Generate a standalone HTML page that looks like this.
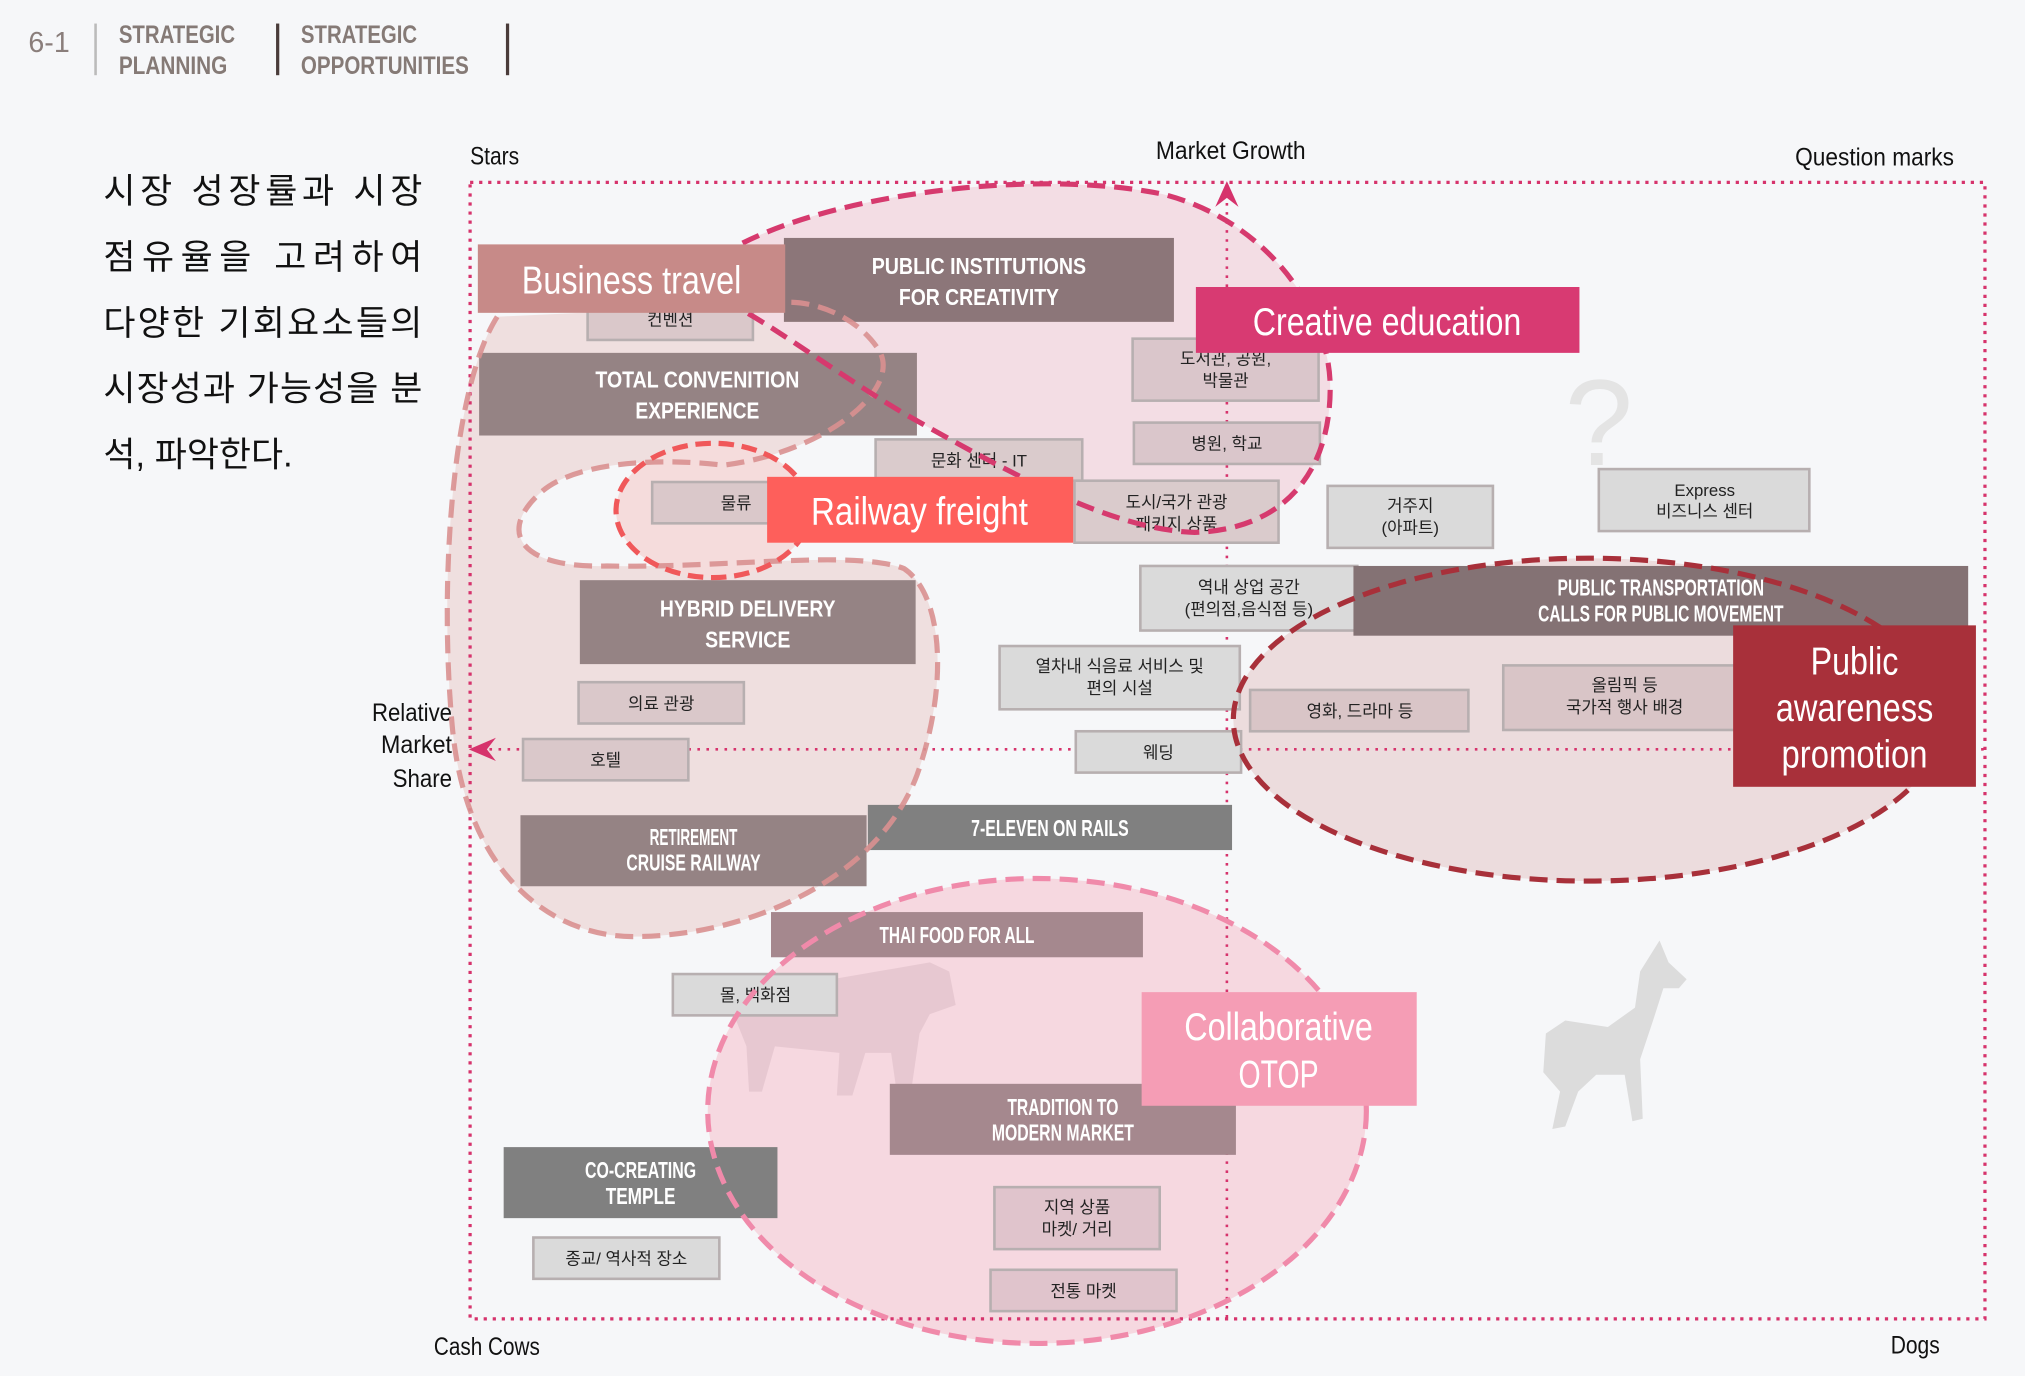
<!DOCTYPE html>
<html><head><meta charset="utf-8"><style>
html,body{margin:0;padding:0;background:#f6f7f9;}
svg{display:block}
text{font-family:"Liberation Sans Narrow","Liberation Sans","Noto Sans CJK KR",sans-serif;}
.k{font-family:"Liberation Sans","Noto Sans CJK KR",sans-serif;font-size:13px;fill:#222;text-anchor:middle}
.w{fill:#fff;text-anchor:middle;font-size:18px;font-weight:bold}
.b{fill:#fff;text-anchor:middle;font-size:30px}
.ax{font-size:19px;fill:#111}
</style></head><body>
<svg width="2025" height="1376" viewBox="0 0 1568 1065" xmlns="http://www.w3.org/2000/svg">
<rect width="1568" height="1065" fill="#f6f7f9"/>
<text x="22" y="40" font-size="22" fill="#8a7e7b" textLength="32" lengthAdjust="spacingAndGlyphs">6-1</text>
<line x1="74" y1="18" x2="74" y2="58" stroke="#bbb" stroke-width="2"/>
<text x="92" y="33" font-size="19" font-weight="bold" fill="#857a76" textLength="90" lengthAdjust="spacingAndGlyphs">STRATEGIC</text>
<text x="92" y="57" font-size="19" font-weight="bold" fill="#857a76" textLength="84" lengthAdjust="spacingAndGlyphs">PLANNING</text>
<line x1="215" y1="18" x2="215" y2="58" stroke="#4a3c3a" stroke-width="2.5"/>
<text x="233" y="33" font-size="19" font-weight="bold" fill="#857a76" textLength="90" lengthAdjust="spacingAndGlyphs">STRATEGIC</text>
<text x="233" y="57" font-size="19" font-weight="bold" fill="#857a76" textLength="130" lengthAdjust="spacingAndGlyphs">OPPORTUNITIES</text>
<line x1="393" y1="18" x2="393" y2="58" stroke="#4a3c3a" stroke-width="2.5"/>
<g font-family="'Liberation Sans','Noto Sans CJK KR',sans-serif" font-size="27" fill="#111">
<text x="80" y="157" textLength="247" lengthAdjust="spacing">시장 성장률과 시장</text>
<text x="80" y="208" textLength="247" lengthAdjust="spacing">점유율을 고려하여</text>
<text x="80" y="259" textLength="247" lengthAdjust="spacing">다양한 기회요소들의</text>
<text x="80" y="310" textLength="247" lengthAdjust="spacing">시장성과 가능성을 분</text>
<text x="80" y="361">석, 파악한다.</text>
</g>
<text class="ax" x="364" y="127" textLength="38" lengthAdjust="spacingAndGlyphs">Stars</text>
<text class="ax" x="895" y="123" textLength="116" lengthAdjust="spacingAndGlyphs">Market Growth</text>
<text class="ax" x="1390" y="128" textLength="123" lengthAdjust="spacingAndGlyphs">Question marks</text>
<text class="ax" x="288" y="558" textLength="62" lengthAdjust="spacingAndGlyphs">Relative</text>
<text class="ax" x="295" y="583" textLength="55" lengthAdjust="spacingAndGlyphs">Market</text>
<text class="ax" x="304" y="609" textLength="46" lengthAdjust="spacingAndGlyphs">Share</text>
<text class="ax" x="336" y="1049" textLength="82" lengthAdjust="spacingAndGlyphs">Cash Cows</text>
<text class="ax" x="1464" y="1048" textLength="38" lengthAdjust="spacingAndGlyphs">Dogs</text>
<text x="1238" y="360" font-size="95" fill="#e4e4e4" text-anchor="middle" font-family="'Liberation Sans',sans-serif">?</text>
<path d="M1285,728 L1292,745 L1306,758 L1300,765 L1288,765 L1280,790 L1270,820 L1272,866 L1264,868 L1258,832 L1236,832 L1222,845 L1212,872 L1202,874 L1208,845 L1195,830 L1197,800 L1212,790 L1245,795 L1266,780 L1270,752 Z" fill="#dcdcdc"/>
<path d="M385,245 C350,300 340,450 350,560 C360,680 430,725 490,725 C580,725 680,680 710,600 C735,530 730,460 700,440 C660,425 560,440 470,438 C400,440 385,410 420,380 C450,355 520,355 560,360 C640,350 700,300 680,270 C660,240 620,230 600,235 Z" fill="#efdfdf"/>
<path d="M575,188 C650,150 800,130 900,150 C980,170 1030,240 1030,300 C1030,370 990,410 925,412 C860,410 780,365 700,320 C650,290 610,260 575,240 Z" fill="#f3dde4"/>
<ellipse cx="1230" cy="557" rx="275" ry="125" fill="#ecdcdd"/>
<ellipse cx="803" cy="860" rx="255" ry="180" fill="#f6d8e0"/>
<ellipse cx="552" cy="395" rx="75" ry="52" fill="#f5dcdc"/>
<rect x="364" y="141" width="1173" height="880" fill="none" stroke="#d6336c" stroke-width="2.5" stroke-dasharray="2.5 4.5"/>
<line x1="950" y1="150" x2="950" y2="1021" stroke="#d6336c" stroke-width="2" stroke-dasharray="2 5"/>
<line x1="372" y1="580" x2="1537" y2="580" stroke="#d6336c" stroke-width="2" stroke-dasharray="2 5"/>
<path d="M950,140 L941,160 L950,153 L959,160 Z" fill="#d6336c"/>
<path d="M363,580 L384,571 L377,580 L384,589 Z" fill="#d6336c"/>
<path d="M575,770 L720,745 L735,752 L740,778 L720,785 L712,800 L705,848 L695,850 L690,815 L670,815 L660,848 L648,848 L650,815 L600,810 L590,845 L580,845 L578,810 L570,790 Z" fill="#e3c4cd" opacity="0.8"/>
<g stroke="#b7afb0" stroke-width="2">
<rect x="455" y="230" width="128" height="33" fill="#dac8ca"/>
<rect x="877" y="262" width="144" height="48" fill="#dac6cb"/>
<rect x="878" y="327" width="144" height="32" fill="#dac6cb"/>
<rect x="678" y="340" width="160" height="32" fill="#dacbcc"/>
<rect x="505" y="373" width="130" height="32" fill="#dac8ca"/>
<rect x="832" y="372" width="158" height="48" fill="#dacbcc"/>
<rect x="1028" y="376" width="128" height="48" fill="#dadada"/>
<rect x="1238" y="363" width="163" height="48" fill="#dadada"/>
<rect x="883" y="438" width="168" height="50" fill="#dadada"/>
<rect x="774" y="500" width="186" height="49" fill="#dadada"/>
<rect x="448" y="528" width="128" height="32" fill="#dac8ca"/>
<rect x="968" y="534" width="169" height="32" fill="#d9c5c7"/>
<rect x="1164" y="515" width="180" height="50" fill="#d9c5c7"/>
<rect x="405" y="572" width="128" height="32" fill="#dac8ca"/>
<rect x="833" y="566" width="128" height="32" fill="#dadada"/>
<rect x="521" y="754" width="127" height="32" fill="#dadada"/>
<rect x="770" y="919" width="128" height="48" fill="#e0c4cc"/>
<rect x="413" y="958" width="144" height="32" fill="#dadada"/>
<rect x="767" y="983" width="144" height="32" fill="#e0c4cc"/>
</g>
<g>
<text class="k" x="519" y="252">컨벤션</text>
<text class="k" x="949" y="282">도서관, 공원,</text><text class="k" x="949" y="299">박물관</text>
<text class="k" x="950" y="348">병원, 학교</text>
<text class="k" x="758" y="361">문화 센터 - IT</text>
<text class="k" x="570" y="394">물류</text>
<text class="k" x="911" y="393">도시/국가 관광</text><text class="k" x="911" y="410">패키지 상품</text>
<text class="k" x="1092" y="396">거주지</text><text class="k" x="1092" y="413">(아파트)</text>
<text class="k" x="1320" y="384">Express</text><text class="k" x="1320" y="400">비즈니스 센터</text>
<text class="k" x="967" y="459">역내 상업 공간</text><text class="k" x="967" y="476">(편의점,음식점 등)</text>
<text class="k" x="867" y="520">열차내 식음료 서비스 및</text><text class="k" x="867" y="537">편의 시설</text>
<text class="k" x="512" y="549">의료 관광</text>
<text class="k" x="1053" y="555">영화, 드라마 등</text>
<text class="k" x="1258" y="535">올림픽 등</text><text class="k" x="1258" y="552">국가적 행사 배경</text>
<text class="k" x="469" y="593">호텔</text>
<text class="k" x="897" y="587">웨딩</text>
<text class="k" x="585" y="775">몰, 백화점</text>
<text class="k" x="834" y="939">지역 상품</text><text class="k" x="834" y="956">마켓/ 거리</text>
<text class="k" x="485" y="979">종교/ 역사적 장소</text>
<text class="k" x="839" y="1004">전통 마켓</text>
</g>
<rect x="607" y="184" width="302" height="65" fill="#8c7679"/>
<text class="w" x="758" y="212" textLength="166" lengthAdjust="spacingAndGlyphs">PUBLIC INSTITUTIONS</text><text class="w" x="758" y="236" textLength="124" lengthAdjust="spacingAndGlyphs">FOR CREATIVITY</text>
<rect x="371" y="273" width="339" height="64" fill="#958384"/>
<text class="w" x="540" y="300" textLength="158" lengthAdjust="spacingAndGlyphs">TOTAL CONVENITION</text><text class="w" x="540" y="324" textLength="96" lengthAdjust="spacingAndGlyphs">EXPERIENCE</text>
<rect x="449" y="449" width="260" height="65" fill="#958384"/>
<text class="w" x="579" y="477" textLength="136" lengthAdjust="spacingAndGlyphs">HYBRID DELIVERY</text><text class="w" x="579" y="501" textLength="66" lengthAdjust="spacingAndGlyphs">SERVICE</text>
<rect x="1048" y="438" width="476" height="54" fill="#847274"/>
<text class="w" x="1286" y="461" font-size="15" textLength="160" lengthAdjust="spacingAndGlyphs">PUBLIC TRANSPORTATION</text><text class="w" x="1286" y="481" font-size="15" textLength="190" lengthAdjust="spacingAndGlyphs">CALLS FOR PUBLIC MOVEMENT</text>
<rect x="403" y="631" width="268" height="55" fill="#958384"/>
<text class="w" x="537" y="654" font-size="15" textLength="68" lengthAdjust="spacingAndGlyphs">RETIREMENT</text><text class="w" x="537" y="674" font-size="15" textLength="104" lengthAdjust="spacingAndGlyphs">CRUISE RAILWAY</text>
<rect x="672" y="623" width="282" height="35" fill="#808080"/>
<text class="w" x="813" y="647" font-size="15" textLength="122" lengthAdjust="spacingAndGlyphs">7-ELEVEN ON RAILS</text>
<rect x="597" y="706" width="288" height="35" fill="#a5888e"/>
<text class="w" x="741" y="730" font-size="15" textLength="120" lengthAdjust="spacingAndGlyphs">THAI FOOD FOR ALL</text>
<rect x="689" y="839" width="268" height="55" fill="#a5888e"/>
<text class="w" x="823" y="863" font-size="15" textLength="86" lengthAdjust="spacingAndGlyphs">TRADITION TO</text><text class="w" x="823" y="883" font-size="15" textLength="110" lengthAdjust="spacingAndGlyphs">MODERN MARKET</text>
<rect x="390" y="888" width="212" height="55" fill="#808080"/>
<text class="w" x="496" y="912" font-size="15" textLength="86" lengthAdjust="spacingAndGlyphs">CO-CREATING</text><text class="w" x="496" y="932" font-size="15" textLength="54" lengthAdjust="spacingAndGlyphs">TEMPLE</text>
<path d="M385,245 C350,300 340,450 350,560 C360,680 430,725 490,725 C580,725 680,680 710,600 C735,530 730,460 700,440 C660,425 560,440 470,438 C400,440 385,410 420,380 C450,355 520,355 560,360 C640,350 700,300 680,270 C660,240 620,230 600,235" fill="none" stroke="#d99090" stroke-width="4" stroke-dasharray="14 7" opacity="0.9"/>
<path d="M575,188 C650,150 800,130 900,150 C980,170 1030,240 1030,300 C1030,370 990,410 925,412 C860,410 780,365 700,320 C650,290 610,260 575,240" fill="none" stroke="#d63a6e" stroke-width="4" stroke-dasharray="14 7"/>
<ellipse cx="1230" cy="557" rx="275" ry="125" fill="none" stroke="#a8303a" stroke-width="4" stroke-dasharray="14 7"/>
<ellipse cx="803" cy="860" rx="255" ry="180" fill="none" stroke="#f08aaa" stroke-width="4" stroke-dasharray="14 7"/>
<ellipse cx="552" cy="395" rx="75" ry="52" fill="none" stroke="#f0585a" stroke-width="4" stroke-dasharray="12 6"/>
<rect x="370" y="189" width="238" height="53" fill="#c78a88"/>
<text class="b" x="489" y="227" textLength="170" lengthAdjust="spacingAndGlyphs">Business travel</text>
<rect x="926" y="222" width="297" height="51" fill="#d83a72"/>
<text class="b" x="1074" y="259" textLength="208" lengthAdjust="spacingAndGlyphs">Creative education</text>
<rect x="594" y="369" width="237" height="51" fill="#fe5f5b"/>
<text class="b" x="712" y="406" textLength="168" lengthAdjust="spacingAndGlyphs">Railway freight</text>
<rect x="1342" y="484" width="188" height="125" fill="#a8303a"/>
<text class="b" x="1436" y="522" textLength="68" lengthAdjust="spacingAndGlyphs">Public</text>
<text class="b" x="1436" y="558" textLength="122" lengthAdjust="spacingAndGlyphs">awareness</text>
<text class="b" x="1436" y="594" textLength="113" lengthAdjust="spacingAndGlyphs">promotion</text>
<rect x="884" y="768" width="213" height="88" fill="#f59db5"/>
<text class="b" x="990" y="805" textLength="146" lengthAdjust="spacingAndGlyphs">Collaborative</text>
<text class="b" x="990" y="842" textLength="62" lengthAdjust="spacingAndGlyphs">OTOP</text>
</svg>
</body></html>
